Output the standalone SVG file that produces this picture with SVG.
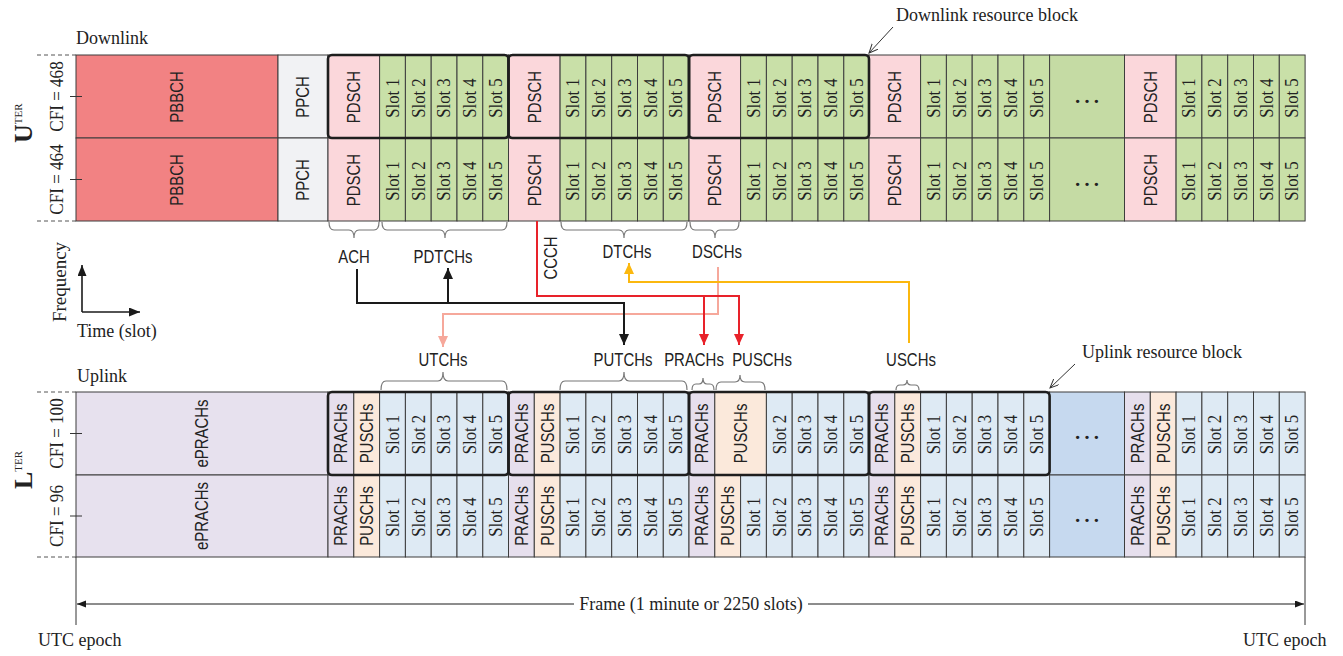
<svg xmlns="http://www.w3.org/2000/svg" width="1343" height="656" viewBox="0 0 1343 656">
<style>
.c{stroke:#3d3d3d;stroke-width:1}
.pb{fill:#f28283}.pp{fill:#f1f2f4}.pd{fill:#fbd7db}.ds{fill:#c9e0a8}.de{fill:#c5dba4}
.ep{fill:#e7e1ee}.pr{fill:#e6dfed}.pu{fill:#fbe9db}.us{fill:#deeaf4}.ue{fill:#c6d9ef}
.t{font-family:"Liberation Sans",Arial,sans-serif;font-size:18px;fill:#222;text-anchor:middle}
.s{font-family:"Liberation Serif","Times New Roman",serif;font-size:19px;fill:#222;text-anchor:middle}
.m{font-family:"Liberation Serif","Times New Roman",serif;font-size:18px;fill:#222}
.el{font-family:"Liberation Serif","Times New Roman",serif;font-size:28px;fill:#222;text-anchor:middle}
.rb{fill:none;stroke:#1e1e1e;stroke-width:2.6}
.br{fill:none;stroke:#777;stroke-width:1.2}
.dash{stroke:#555;stroke-width:1;stroke-dasharray:4,3}
.tk{stroke:#333;stroke-width:1}
.cn{fill:none;stroke-width:2}
</style>
<defs>
<marker id="ak" markerUnits="userSpaceOnUse" markerWidth="12" markerHeight="10" refX="11" refY="5" orient="auto"><path d="M0,0 L11,5 L0,10 z" fill="#1a1a1a"/></marker>
<marker id="ar" markerUnits="userSpaceOnUse" markerWidth="12" markerHeight="10" refX="11" refY="5" orient="auto"><path d="M0,0 L11,5 L0,10 z" fill="#e8222a"/></marker>
<marker id="as" markerUnits="userSpaceOnUse" markerWidth="12" markerHeight="10" refX="11" refY="5" orient="auto"><path d="M0,0 L11,5 L0,10 z" fill="#f6a89b"/></marker>
<marker id="ay" markerUnits="userSpaceOnUse" markerWidth="12" markerHeight="10" refX="11" refY="5" orient="auto"><path d="M0,0 L11,5 L0,10 z" fill="#fbb80f"/></marker>
<marker id="ax" markerUnits="userSpaceOnUse" markerWidth="12" markerHeight="10" refX="11" refY="4.5" orient="auto"><path d="M0,0 L11,4.5 L0,9 z" fill="#1a1a1a"/></marker>
<marker id="af" markerUnits="userSpaceOnUse" markerWidth="10" markerHeight="8" refX="9" refY="3.5" orient="auto"><path d="M0,0 L9,3.5 L0,7 z" fill="#1a1a1a"/></marker>
<marker id="ao" markerUnits="userSpaceOnUse" markerWidth="10" markerHeight="10" refX="9" refY="4" orient="auto"><path d="M0,0 L9,4 L0,8" fill="none" stroke="#333" stroke-width="1"/></marker>
</defs>
<rect width="1343" height="656" fill="#fff"/>

<!-- Labels / axes -->
<g id="labels">
<text class="m" x="76" y="44">Downlink</text>
<text class="m" x="77" y="382">Uplink</text>
<text class="m" x="896" y="21">Downlink resource block</text>
<text class="m" x="1082" y="358">Uplink resource block</text>
<line x1="893" y1="27" x2="869" y2="53" stroke="#333" stroke-width="1" marker-end="url(#ao)"/>
<line x1="1075" y1="364" x2="1050" y2="388" stroke="#333" stroke-width="1" marker-end="url(#ao)"/>
<text class="m" transform="translate(32,143) rotate(-90)"><tspan font-weight="bold" font-size="26">U</tspan><tspan font-size="11" dy="-10">TER</tspan></text>
<text class="m" transform="translate(32,489) rotate(-90)"><tspan font-weight="bold" font-size="26">L</tspan><tspan font-size="11" dy="-10">TER</tspan></text>
<text class="s" font-size="17" transform="translate(56,96.5) rotate(-90) scale(.9,1)" dy=".35em">CFI = 468</text>
<text class="s" font-size="17" transform="translate(56,179.5) rotate(-90) scale(.9,1)" dy=".35em">CFI = 464</text>
<text class="s" font-size="17" transform="translate(56,433.5) rotate(-90) scale(.9,1)" dy=".35em">CFI = 100</text>
<text class="s" font-size="17" transform="translate(56,516) rotate(-90) scale(.9,1)" dy=".35em">CFI = 96</text>
<line class="dash" x1="37" y1="55" x2="76" y2="55"/>
<line class="dash" x1="37" y1="221" x2="76" y2="221"/>
<line class="dash" x1="37" y1="392" x2="76" y2="392"/>
<line class="dash" x1="37" y1="557" x2="76" y2="557"/>
<text class="s" font-size="18" transform="translate(60,282) rotate(-90)" dy=".3em">Frequency</text>
<text class="m" x="77" y="337">Time (slot)</text>
<line x1="82" y1="312" x2="82" y2="265" stroke="#1a1a1a" stroke-width="1.6" marker-end="url(#ax)"/>
<line x1="82" y1="312" x2="140" y2="312" stroke="#1a1a1a" stroke-width="1.6" marker-end="url(#ax)"/>
</g>

<!-- Downlink row 1 -->
<g id="dl-row1">
<rect class="c pb" x="76" y="55" width="202" height="83"/>
<rect class="c pp" x="278" y="55" width="50" height="83"/>
<rect class="c pd" x="328" y="55" width="51.6" height="83"/>
<rect class="c ds" x="379.6" y="55" width="25.8" height="83"/><rect class="c ds" x="405.4" y="55" width="25.8" height="83"/><rect class="c ds" x="431.2" y="55" width="25.8" height="83"/><rect class="c ds" x="457" y="55" width="25.8" height="83"/><rect class="c ds" x="482.8" y="55" width="25.7" height="83"/>
<rect class="c pd" x="508.5" y="55" width="51.6" height="83"/>
<rect class="c ds" x="560.1" y="55" width="25.8" height="83"/><rect class="c ds" x="585.9" y="55" width="25.8" height="83"/><rect class="c ds" x="611.7" y="55" width="25.8" height="83"/><rect class="c ds" x="637.5" y="55" width="25.8" height="83"/><rect class="c ds" x="663.3" y="55" width="25.7" height="83"/>
<rect class="c pd" x="689" y="55" width="51.6" height="83"/>
<rect class="c ds" x="740.6" y="55" width="25.8" height="83"/><rect class="c ds" x="766.4" y="55" width="25.8" height="83"/><rect class="c ds" x="792.2" y="55" width="25.8" height="83"/><rect class="c ds" x="818" y="55" width="25.8" height="83"/><rect class="c ds" x="843.8" y="55" width="25.2" height="83"/>
<rect class="c pd" x="869" y="55" width="51.6" height="83"/>
<rect class="c ds" x="920.6" y="55" width="25.8" height="83"/><rect class="c ds" x="946.4" y="55" width="25.8" height="83"/><rect class="c ds" x="972.2" y="55" width="25.8" height="83"/><rect class="c ds" x="998" y="55" width="25.8" height="83"/><rect class="c ds" x="1023.8" y="55" width="25.8" height="83"/>
<rect class="c de" x="1049.6" y="55" width="74.9" height="83"/>
<rect class="c pd" x="1124.5" y="55" width="51.6" height="83"/>
<rect class="c ds" x="1176.1" y="55" width="25.8" height="83"/><rect class="c ds" x="1201.9" y="55" width="25.8" height="83"/><rect class="c ds" x="1227.7" y="55" width="25.8" height="83"/><rect class="c ds" x="1253.5" y="55" width="25.8" height="83"/><rect class="c ds" x="1279.3" y="55" width="25.8" height="83"/>
<text class="t" transform="translate(177,97) rotate(-90) scale(.83,1)" dy=".35em">PBBCH</text>
<text class="t" transform="translate(303,97) rotate(-90) scale(.83,1)" dy=".35em">PPCH</text>
<text class="t" transform="translate(353.8,97) rotate(-90) scale(.83,1)" dy=".35em">PDSCH</text>
<text class="s" transform="translate(392.5,98) rotate(-90) scale(.88,1)" dy=".33em">Slot 1</text><text class="s" transform="translate(418.3,98) rotate(-90) scale(.88,1)" dy=".33em">Slot 2</text><text class="s" transform="translate(444.1,98) rotate(-90) scale(.88,1)" dy=".33em">Slot 3</text><text class="s" transform="translate(469.9,98) rotate(-90) scale(.88,1)" dy=".33em">Slot 4</text><text class="s" transform="translate(495.7,98) rotate(-90) scale(.88,1)" dy=".33em">Slot 5</text>
<text class="t" transform="translate(534.3,97) rotate(-90) scale(.83,1)" dy=".35em">PDSCH</text>
<text class="s" transform="translate(573,98) rotate(-90) scale(.88,1)" dy=".33em">Slot 1</text><text class="s" transform="translate(598.8,98) rotate(-90) scale(.88,1)" dy=".33em">Slot 2</text><text class="s" transform="translate(624.6,98) rotate(-90) scale(.88,1)" dy=".33em">Slot 3</text><text class="s" transform="translate(650.4,98) rotate(-90) scale(.88,1)" dy=".33em">Slot 4</text><text class="s" transform="translate(676.2,98) rotate(-90) scale(.88,1)" dy=".33em">Slot 5</text>
<text class="t" transform="translate(714.8,97) rotate(-90) scale(.83,1)" dy=".35em">PDSCH</text>
<text class="s" transform="translate(753.5,98) rotate(-90) scale(.88,1)" dy=".33em">Slot 1</text><text class="s" transform="translate(779.3,98) rotate(-90) scale(.88,1)" dy=".33em">Slot 2</text><text class="s" transform="translate(805.1,98) rotate(-90) scale(.88,1)" dy=".33em">Slot 3</text><text class="s" transform="translate(830.9,98) rotate(-90) scale(.88,1)" dy=".33em">Slot 4</text><text class="s" transform="translate(856.7,98) rotate(-90) scale(.88,1)" dy=".33em">Slot 5</text>
<text class="t" transform="translate(894.8,97) rotate(-90) scale(.83,1)" dy=".35em">PDSCH</text>
<text class="s" transform="translate(933.5,98) rotate(-90) scale(.88,1)" dy=".33em">Slot 1</text><text class="s" transform="translate(959.3,98) rotate(-90) scale(.88,1)" dy=".33em">Slot 2</text><text class="s" transform="translate(985.1,98) rotate(-90) scale(.88,1)" dy=".33em">Slot 3</text><text class="s" transform="translate(1010.9,98) rotate(-90) scale(.88,1)" dy=".33em">Slot 4</text><text class="s" transform="translate(1036.7,98) rotate(-90) scale(.88,1)" dy=".33em">Slot 5</text>
<text class="el" x="1087" y="103">…</text>
<text class="t" transform="translate(1150.3,97) rotate(-90) scale(.83,1)" dy=".35em">PDSCH</text>
<text class="s" transform="translate(1189,98) rotate(-90) scale(.88,1)" dy=".33em">Slot 1</text><text class="s" transform="translate(1214.8,98) rotate(-90) scale(.88,1)" dy=".33em">Slot 2</text><text class="s" transform="translate(1240.6,98) rotate(-90) scale(.88,1)" dy=".33em">Slot 3</text><text class="s" transform="translate(1266.4,98) rotate(-90) scale(.88,1)" dy=".33em">Slot 4</text><text class="s" transform="translate(1292.2,98) rotate(-90) scale(.88,1)" dy=".33em">Slot 5</text>
<line class="tk" x1="70" y1="96.5" x2="82" y2="96.5"/>
</g>

<!-- Downlink row 2 -->
<g id="dl-row2">
<rect class="c pb" x="76" y="138" width="202" height="83"/>
<rect class="c pp" x="278" y="138" width="50" height="83"/>
<rect class="c pd" x="328" y="138" width="51.6" height="83"/>
<rect class="c ds" x="379.6" y="138" width="25.8" height="83"/><rect class="c ds" x="405.4" y="138" width="25.8" height="83"/><rect class="c ds" x="431.2" y="138" width="25.8" height="83"/><rect class="c ds" x="457" y="138" width="25.8" height="83"/><rect class="c ds" x="482.8" y="138" width="25.7" height="83"/>
<rect class="c pd" x="508.5" y="138" width="51.6" height="83"/>
<rect class="c ds" x="560.1" y="138" width="25.8" height="83"/><rect class="c ds" x="585.9" y="138" width="25.8" height="83"/><rect class="c ds" x="611.7" y="138" width="25.8" height="83"/><rect class="c ds" x="637.5" y="138" width="25.8" height="83"/><rect class="c ds" x="663.3" y="138" width="25.7" height="83"/>
<rect class="c pd" x="689" y="138" width="51.6" height="83"/>
<rect class="c ds" x="740.6" y="138" width="25.8" height="83"/><rect class="c ds" x="766.4" y="138" width="25.8" height="83"/><rect class="c ds" x="792.2" y="138" width="25.8" height="83"/><rect class="c ds" x="818" y="138" width="25.8" height="83"/><rect class="c ds" x="843.8" y="138" width="25.2" height="83"/>
<rect class="c pd" x="869" y="138" width="51.6" height="83"/>
<rect class="c ds" x="920.6" y="138" width="25.8" height="83"/><rect class="c ds" x="946.4" y="138" width="25.8" height="83"/><rect class="c ds" x="972.2" y="138" width="25.8" height="83"/><rect class="c ds" x="998" y="138" width="25.8" height="83"/><rect class="c ds" x="1023.8" y="138" width="25.8" height="83"/>
<rect class="c de" x="1049.6" y="138" width="74.9" height="83"/>
<rect class="c pd" x="1124.5" y="138" width="51.6" height="83"/>
<rect class="c ds" x="1176.1" y="138" width="25.8" height="83"/><rect class="c ds" x="1201.9" y="138" width="25.8" height="83"/><rect class="c ds" x="1227.7" y="138" width="25.8" height="83"/><rect class="c ds" x="1253.5" y="138" width="25.8" height="83"/><rect class="c ds" x="1279.3" y="138" width="25.8" height="83"/>
<text class="t" transform="translate(177,180) rotate(-90) scale(.83,1)" dy=".35em">PBBCH</text>
<text class="t" transform="translate(303,180) rotate(-90) scale(.83,1)" dy=".35em">PPCH</text>
<text class="t" transform="translate(353.8,180) rotate(-90) scale(.83,1)" dy=".35em">PDSCH</text>
<text class="s" transform="translate(392.5,181) rotate(-90) scale(.88,1)" dy=".33em">Slot 1</text><text class="s" transform="translate(418.3,181) rotate(-90) scale(.88,1)" dy=".33em">Slot 2</text><text class="s" transform="translate(444.1,181) rotate(-90) scale(.88,1)" dy=".33em">Slot 3</text><text class="s" transform="translate(469.9,181) rotate(-90) scale(.88,1)" dy=".33em">Slot 4</text><text class="s" transform="translate(495.7,181) rotate(-90) scale(.88,1)" dy=".33em">Slot 5</text>
<text class="t" transform="translate(534.3,180) rotate(-90) scale(.83,1)" dy=".35em">PDSCH</text>
<text class="s" transform="translate(573,181) rotate(-90) scale(.88,1)" dy=".33em">Slot 1</text><text class="s" transform="translate(598.8,181) rotate(-90) scale(.88,1)" dy=".33em">Slot 2</text><text class="s" transform="translate(624.6,181) rotate(-90) scale(.88,1)" dy=".33em">Slot 3</text><text class="s" transform="translate(650.4,181) rotate(-90) scale(.88,1)" dy=".33em">Slot 4</text><text class="s" transform="translate(676.2,181) rotate(-90) scale(.88,1)" dy=".33em">Slot 5</text>
<text class="t" transform="translate(714.8,180) rotate(-90) scale(.83,1)" dy=".35em">PDSCH</text>
<text class="s" transform="translate(753.5,181) rotate(-90) scale(.88,1)" dy=".33em">Slot 1</text><text class="s" transform="translate(779.3,181) rotate(-90) scale(.88,1)" dy=".33em">Slot 2</text><text class="s" transform="translate(805.1,181) rotate(-90) scale(.88,1)" dy=".33em">Slot 3</text><text class="s" transform="translate(830.9,181) rotate(-90) scale(.88,1)" dy=".33em">Slot 4</text><text class="s" transform="translate(856.7,181) rotate(-90) scale(.88,1)" dy=".33em">Slot 5</text>
<text class="t" transform="translate(894.8,180) rotate(-90) scale(.83,1)" dy=".35em">PDSCH</text>
<text class="s" transform="translate(933.5,181) rotate(-90) scale(.88,1)" dy=".33em">Slot 1</text><text class="s" transform="translate(959.3,181) rotate(-90) scale(.88,1)" dy=".33em">Slot 2</text><text class="s" transform="translate(985.1,181) rotate(-90) scale(.88,1)" dy=".33em">Slot 3</text><text class="s" transform="translate(1010.9,181) rotate(-90) scale(.88,1)" dy=".33em">Slot 4</text><text class="s" transform="translate(1036.7,181) rotate(-90) scale(.88,1)" dy=".33em">Slot 5</text>
<text class="el" x="1087" y="186">…</text>
<text class="t" transform="translate(1150.3,180) rotate(-90) scale(.83,1)" dy=".35em">PDSCH</text>
<text class="s" transform="translate(1189,181) rotate(-90) scale(.88,1)" dy=".33em">Slot 1</text><text class="s" transform="translate(1214.8,181) rotate(-90) scale(.88,1)" dy=".33em">Slot 2</text><text class="s" transform="translate(1240.6,181) rotate(-90) scale(.88,1)" dy=".33em">Slot 3</text><text class="s" transform="translate(1266.4,181) rotate(-90) scale(.88,1)" dy=".33em">Slot 4</text><text class="s" transform="translate(1292.2,181) rotate(-90) scale(.88,1)" dy=".33em">Slot 5</text>
<line class="tk" x1="70" y1="179.5" x2="82" y2="179.5"/>
</g>

<g id="dl-resource-blocks">
<rect class="rb" x="328" y="55" width="180.5" height="83" rx="4"/>
<rect class="rb" x="508.5" y="55" width="180.5" height="83" rx="4"/>
<rect class="rb" x="689" y="55" width="180" height="83" rx="4"/>
</g>

<!-- Uplink row 1 -->
<g id="ul-row1">
<rect class="c ep" x="76" y="392" width="252" height="83"/>
<rect class="c pr" x="328" y="392" width="25.8" height="83"/><rect class="c pu" x="353.8" y="392" width="25.8" height="83"/>
<rect class="c us" x="379.6" y="392" width="25.8" height="83"/><rect class="c us" x="405.4" y="392" width="25.8" height="83"/><rect class="c us" x="431.2" y="392" width="25.8" height="83"/><rect class="c us" x="457" y="392" width="25.8" height="83"/><rect class="c us" x="482.8" y="392" width="25.7" height="83"/>
<rect class="c pr" x="508.5" y="392" width="25.8" height="83"/><rect class="c pu" x="534.3" y="392" width="25.8" height="83"/>
<rect class="c us" x="560.1" y="392" width="25.8" height="83"/><rect class="c us" x="585.9" y="392" width="25.8" height="83"/><rect class="c us" x="611.7" y="392" width="25.8" height="83"/><rect class="c us" x="637.5" y="392" width="25.8" height="83"/><rect class="c us" x="663.3" y="392" width="25.7" height="83"/>
<rect class="c pr" x="689" y="392" width="25.8" height="83"/><rect class="c pu" x="714.8" y="392" width="51.6" height="83"/>
<rect class="c us" x="766.4" y="392" width="25.8" height="83"/><rect class="c us" x="792.2" y="392" width="25.8" height="83"/><rect class="c us" x="818" y="392" width="25.8" height="83"/><rect class="c us" x="843.8" y="392" width="25.2" height="83"/>
<rect class="c pr" x="869" y="392" width="25.8" height="83"/><rect class="c pu" x="894.8" y="392" width="25.8" height="83"/>
<rect class="c us" x="920.6" y="392" width="25.8" height="83"/><rect class="c us" x="946.4" y="392" width="25.8" height="83"/><rect class="c us" x="972.2" y="392" width="25.8" height="83"/><rect class="c us" x="998" y="392" width="25.8" height="83"/><rect class="c us" x="1023.8" y="392" width="25.8" height="83"/>
<rect class="c ue" x="1049.6" y="392" width="74.9" height="83"/>
<rect class="c pr" x="1124.5" y="392" width="25.8" height="83"/><rect class="c pu" x="1150.3" y="392" width="25.8" height="83"/>
<rect class="c us" x="1176.1" y="392" width="25.8" height="83"/><rect class="c us" x="1201.9" y="392" width="25.8" height="83"/><rect class="c us" x="1227.7" y="392" width="25.8" height="83"/><rect class="c us" x="1253.5" y="392" width="25.8" height="83"/><rect class="c us" x="1279.3" y="392" width="25.8" height="83"/>
<text class="t" transform="translate(202,433.5) rotate(-90) scale(.83,1)" dy=".35em">ePRACHs</text>
<text class="t" transform="translate(340.9,433.5) rotate(-90) scale(.83,1)" dy=".35em">PRACHs</text><text class="t" transform="translate(366.7,433.5) rotate(-90) scale(.83,1)" dy=".35em">PUSCHs</text>
<text class="s" transform="translate(392.5,434.5) rotate(-90) scale(.88,1)" dy=".33em">Slot 1</text><text class="s" transform="translate(418.3,434.5) rotate(-90) scale(.88,1)" dy=".33em">Slot 2</text><text class="s" transform="translate(444.1,434.5) rotate(-90) scale(.88,1)" dy=".33em">Slot 3</text><text class="s" transform="translate(469.9,434.5) rotate(-90) scale(.88,1)" dy=".33em">Slot 4</text><text class="s" transform="translate(495.7,434.5) rotate(-90) scale(.88,1)" dy=".33em">Slot 5</text>
<text class="t" transform="translate(521.4,433.5) rotate(-90) scale(.83,1)" dy=".35em">PRACHs</text><text class="t" transform="translate(547.2,433.5) rotate(-90) scale(.83,1)" dy=".35em">PUSCHs</text>
<text class="s" transform="translate(573,434.5) rotate(-90) scale(.88,1)" dy=".33em">Slot 1</text><text class="s" transform="translate(598.8,434.5) rotate(-90) scale(.88,1)" dy=".33em">Slot 2</text><text class="s" transform="translate(624.6,434.5) rotate(-90) scale(.88,1)" dy=".33em">Slot 3</text><text class="s" transform="translate(650.4,434.5) rotate(-90) scale(.88,1)" dy=".33em">Slot 4</text><text class="s" transform="translate(676.2,434.5) rotate(-90) scale(.88,1)" dy=".33em">Slot 5</text>
<text class="t" transform="translate(701.9,433.5) rotate(-90) scale(.83,1)" dy=".35em">PRACHs</text><text class="t" transform="translate(740.6,433.5) rotate(-90) scale(.83,1)" dy=".35em">PUSCHs</text>
<text class="s" transform="translate(779.3,434.5) rotate(-90) scale(.88,1)" dy=".33em">Slot 2</text><text class="s" transform="translate(805.1,434.5) rotate(-90) scale(.88,1)" dy=".33em">Slot 3</text><text class="s" transform="translate(830.9,434.5) rotate(-90) scale(.88,1)" dy=".33em">Slot 4</text><text class="s" transform="translate(856.7,434.5) rotate(-90) scale(.88,1)" dy=".33em">Slot 5</text>
<text class="t" transform="translate(881.9,433.5) rotate(-90) scale(.83,1)" dy=".35em">PRACHs</text><text class="t" transform="translate(907.7,433.5) rotate(-90) scale(.83,1)" dy=".35em">PUSCHs</text>
<text class="s" transform="translate(933.5,434.5) rotate(-90) scale(.88,1)" dy=".33em">Slot 1</text><text class="s" transform="translate(959.3,434.5) rotate(-90) scale(.88,1)" dy=".33em">Slot 2</text><text class="s" transform="translate(985.1,434.5) rotate(-90) scale(.88,1)" dy=".33em">Slot 3</text><text class="s" transform="translate(1010.9,434.5) rotate(-90) scale(.88,1)" dy=".33em">Slot 4</text><text class="s" transform="translate(1036.7,434.5) rotate(-90) scale(.88,1)" dy=".33em">Slot 5</text>
<text class="el" x="1087" y="439">…</text>
<text class="t" transform="translate(1137.4,433.5) rotate(-90) scale(.83,1)" dy=".35em">PRACHs</text><text class="t" transform="translate(1163.2,433.5) rotate(-90) scale(.83,1)" dy=".35em">PUSCHs</text>
<text class="s" transform="translate(1189,434.5) rotate(-90) scale(.88,1)" dy=".33em">Slot 1</text><text class="s" transform="translate(1214.8,434.5) rotate(-90) scale(.88,1)" dy=".33em">Slot 2</text><text class="s" transform="translate(1240.6,434.5) rotate(-90) scale(.88,1)" dy=".33em">Slot 3</text><text class="s" transform="translate(1266.4,434.5) rotate(-90) scale(.88,1)" dy=".33em">Slot 4</text><text class="s" transform="translate(1292.2,434.5) rotate(-90) scale(.88,1)" dy=".33em">Slot 5</text>
<line class="tk" x1="70" y1="433.5" x2="82" y2="433.5"/>
</g>

<!-- Uplink row 2 -->
<g id="ul-row2">
<rect class="c ep" x="76" y="475" width="252" height="82"/>
<rect class="c pr" x="328" y="475" width="25.8" height="82"/><rect class="c pu" x="353.8" y="475" width="25.8" height="82"/>
<rect class="c us" x="379.6" y="475" width="25.8" height="82"/><rect class="c us" x="405.4" y="475" width="25.8" height="82"/><rect class="c us" x="431.2" y="475" width="25.8" height="82"/><rect class="c us" x="457" y="475" width="25.8" height="82"/><rect class="c us" x="482.8" y="475" width="25.7" height="82"/>
<rect class="c pr" x="508.5" y="475" width="25.8" height="82"/><rect class="c pu" x="534.3" y="475" width="25.8" height="82"/>
<rect class="c us" x="560.1" y="475" width="25.8" height="82"/><rect class="c us" x="585.9" y="475" width="25.8" height="82"/><rect class="c us" x="611.7" y="475" width="25.8" height="82"/><rect class="c us" x="637.5" y="475" width="25.8" height="82"/><rect class="c us" x="663.3" y="475" width="25.7" height="82"/>
<rect class="c pr" x="689" y="475" width="25.8" height="82"/><rect class="c pu" x="714.8" y="475" width="25.8" height="82"/>
<rect class="c us" x="740.6" y="475" width="25.8" height="82"/><rect class="c us" x="766.4" y="475" width="25.8" height="82"/><rect class="c us" x="792.2" y="475" width="25.8" height="82"/><rect class="c us" x="818" y="475" width="25.8" height="82"/><rect class="c us" x="843.8" y="475" width="25.2" height="82"/>
<rect class="c pr" x="869" y="475" width="25.8" height="82"/><rect class="c pu" x="894.8" y="475" width="25.8" height="82"/>
<rect class="c us" x="920.6" y="475" width="25.8" height="82"/><rect class="c us" x="946.4" y="475" width="25.8" height="82"/><rect class="c us" x="972.2" y="475" width="25.8" height="82"/><rect class="c us" x="998" y="475" width="25.8" height="82"/><rect class="c us" x="1023.8" y="475" width="25.8" height="82"/>
<rect class="c ue" x="1049.6" y="475" width="74.9" height="82"/>
<rect class="c pr" x="1124.5" y="475" width="25.8" height="82"/><rect class="c pu" x="1150.3" y="475" width="25.8" height="82"/>
<rect class="c us" x="1176.1" y="475" width="25.8" height="82"/><rect class="c us" x="1201.9" y="475" width="25.8" height="82"/><rect class="c us" x="1227.7" y="475" width="25.8" height="82"/><rect class="c us" x="1253.5" y="475" width="25.8" height="82"/><rect class="c us" x="1279.3" y="475" width="25.8" height="82"/>
<text class="t" transform="translate(202,516) rotate(-90) scale(.83,1)" dy=".35em">ePRACHs</text>
<text class="t" transform="translate(340.9,516) rotate(-90) scale(.83,1)" dy=".35em">PRACHs</text><text class="t" transform="translate(366.7,516) rotate(-90) scale(.83,1)" dy=".35em">PUSCHs</text>
<text class="s" transform="translate(392.5,517) rotate(-90) scale(.88,1)" dy=".33em">Slot 1</text><text class="s" transform="translate(418.3,517) rotate(-90) scale(.88,1)" dy=".33em">Slot 2</text><text class="s" transform="translate(444.1,517) rotate(-90) scale(.88,1)" dy=".33em">Slot 3</text><text class="s" transform="translate(469.9,517) rotate(-90) scale(.88,1)" dy=".33em">Slot 4</text><text class="s" transform="translate(495.7,517) rotate(-90) scale(.88,1)" dy=".33em">Slot 5</text>
<text class="t" transform="translate(521.4,516) rotate(-90) scale(.83,1)" dy=".35em">PRACHs</text><text class="t" transform="translate(547.2,516) rotate(-90) scale(.83,1)" dy=".35em">PUSCHs</text>
<text class="s" transform="translate(573,517) rotate(-90) scale(.88,1)" dy=".33em">Slot 1</text><text class="s" transform="translate(598.8,517) rotate(-90) scale(.88,1)" dy=".33em">Slot 2</text><text class="s" transform="translate(624.6,517) rotate(-90) scale(.88,1)" dy=".33em">Slot 3</text><text class="s" transform="translate(650.4,517) rotate(-90) scale(.88,1)" dy=".33em">Slot 4</text><text class="s" transform="translate(676.2,517) rotate(-90) scale(.88,1)" dy=".33em">Slot 5</text>
<text class="t" transform="translate(701.9,516) rotate(-90) scale(.83,1)" dy=".35em">PRACHs</text><text class="t" transform="translate(727.7,516) rotate(-90) scale(.83,1)" dy=".35em">PUSCHs</text>
<text class="s" transform="translate(753.5,517) rotate(-90) scale(.88,1)" dy=".33em">Slot 1</text><text class="s" transform="translate(779.3,517) rotate(-90) scale(.88,1)" dy=".33em">Slot 2</text><text class="s" transform="translate(805.1,517) rotate(-90) scale(.88,1)" dy=".33em">Slot 3</text><text class="s" transform="translate(830.9,517) rotate(-90) scale(.88,1)" dy=".33em">Slot 4</text><text class="s" transform="translate(856.7,517) rotate(-90) scale(.88,1)" dy=".33em">Slot 5</text>
<text class="t" transform="translate(881.9,516) rotate(-90) scale(.83,1)" dy=".35em">PRACHs</text><text class="t" transform="translate(907.7,516) rotate(-90) scale(.83,1)" dy=".35em">PUSCHs</text>
<text class="s" transform="translate(933.5,517) rotate(-90) scale(.88,1)" dy=".33em">Slot 1</text><text class="s" transform="translate(959.3,517) rotate(-90) scale(.88,1)" dy=".33em">Slot 2</text><text class="s" transform="translate(985.1,517) rotate(-90) scale(.88,1)" dy=".33em">Slot 3</text><text class="s" transform="translate(1010.9,517) rotate(-90) scale(.88,1)" dy=".33em">Slot 4</text><text class="s" transform="translate(1036.7,517) rotate(-90) scale(.88,1)" dy=".33em">Slot 5</text>
<text class="el" x="1087" y="522">…</text>
<text class="t" transform="translate(1137.4,516) rotate(-90) scale(.83,1)" dy=".35em">PRACHs</text><text class="t" transform="translate(1163.2,516) rotate(-90) scale(.83,1)" dy=".35em">PUSCHs</text>
<text class="s" transform="translate(1189,517) rotate(-90) scale(.88,1)" dy=".33em">Slot 1</text><text class="s" transform="translate(1214.8,517) rotate(-90) scale(.88,1)" dy=".33em">Slot 2</text><text class="s" transform="translate(1240.6,517) rotate(-90) scale(.88,1)" dy=".33em">Slot 3</text><text class="s" transform="translate(1266.4,517) rotate(-90) scale(.88,1)" dy=".33em">Slot 4</text><text class="s" transform="translate(1292.2,517) rotate(-90) scale(.88,1)" dy=".33em">Slot 5</text>
<line class="tk" x1="70" y1="516" x2="82" y2="516"/>
</g>

<g id="ul-resource-blocks">
<rect class="rb" x="328" y="392" width="180.5" height="83" rx="4"/>
<rect class="rb" x="508.5" y="392" width="180.5" height="83" rx="4"/>
<rect class="rb" x="689" y="392" width="180" height="83" rx="4"/>
<rect class="rb" x="869" y="392" width="180.6" height="83" rx="4"/>
</g>

<!-- Braces and channel labels -->
<g id="channels">
<path class="br" d="M329,222 Q329,230 334,230 H349 Q354,230 354,238 Q354,230 359,230 H374 Q379,230 379,222"/>
<path class="br" d="M382,222 Q382,230 387,230 H440 Q445,230 445,238 Q445,230 450,230 H502 Q507,230 507,222"/>
<path class="br" d="M561,222 Q561,230 566,230 H619 Q624,230 624,238 Q624,230 629,230 H682 Q687,230 687,222"/>
<path class="br" d="M690,222 Q690,230 695,230 H710 Q715,230 715,238 Q715,230 720,230 H734 Q739,230 739,222"/>
<path class="br" d="M381,390 Q381,381 386,381 H438 Q443,381 443,372 Q443,381 448,381 H502 Q507,381 507,390"/>
<path class="br" d="M560,390 Q560,381 565,381 H619 Q624,381 624,372 Q624,381 629,381 H682 Q687,381 687,390"/>
<path class="br" d="M692,390 Q692,384 696,384 H699 Q703,384 703,378 Q703,384 707,384 H710 Q714,384 714,390"/>
<path class="br" d="M716,390 Q716,382 721,382 H735 Q740,382 740,375 Q740,382 745,382 H760 Q765,382 765,390"/>
<path class="br" d="M896,390 Q896,385 900,385 H903 Q907,385 907,380 Q907,385 911,385 H915 Q919,385 919,390"/>
<text class="t" transform="translate(354,263) scale(.83,1)">ACH</text>
<text class="t" transform="translate(443,263) scale(.83,1)">PDTCHs</text>
<text class="t" transform="translate(551,258) rotate(-90) scale(.83,1)" dy=".35em">CCCH</text>
<text class="t" transform="translate(627,258) scale(.83,1)">DTCHs</text>
<text class="t" transform="translate(717,258) scale(.83,1)">DSCHs</text>
<text class="t" transform="translate(443,366) scale(.83,1)">UTCHs</text>
<text class="t" transform="translate(623,366) scale(.83,1)">PUTCHs</text>
<text class="t" transform="translate(694,366) scale(.83,1)">PRACHs</text>
<text class="t" transform="translate(762,366) scale(.83,1)">PUSCHs</text>
<text class="t" transform="translate(911,366) scale(.83,1)">USCHs</text>
</g>

<!-- Connectors -->
<g id="connectors">
<path class="cn" stroke="#f6a89b" d="M718,267 V314 H443 V347" marker-end="url(#as)"/>
<path class="cn" stroke="#1a1a1a" d="M357,269 V303 H624 V345" marker-end="url(#ak)"/>
<path class="cn" stroke="#1a1a1a" d="M448,303 V268" marker-end="url(#ak)"/>
<path class="cn" stroke="#fbb80f" d="M909,343 V282 H629 V263" marker-end="url(#ay)"/>
<path class="cn" stroke="#e8222a" d="M537,221 V296 H739 V345" marker-end="url(#ar)"/>
<path class="cn" stroke="#e8222a" d="M704,296 V345" marker-end="url(#ar)"/>
</g>

<!-- Frame timeline -->
<g id="frame">
<line x1="76" y1="557" x2="76" y2="625" stroke="#333" stroke-width="1"/>
<line x1="1305" y1="557" x2="1305" y2="625" stroke="#333" stroke-width="1"/>
<line x1="574" y1="604" x2="77" y2="604" stroke="#1a1a1a" stroke-width="1" marker-end="url(#af)"/>
<line x1="808" y1="604" x2="1304" y2="604" stroke="#1a1a1a" stroke-width="1" marker-end="url(#af)"/>
<text class="m" x="691" y="610" text-anchor="middle">Frame (1 minute or 2250 slots)</text>
<text class="m" x="38" y="646">UTC epoch</text>
<text class="m" x="1243" y="646">UTC epoch</text>
</g>
</svg>
